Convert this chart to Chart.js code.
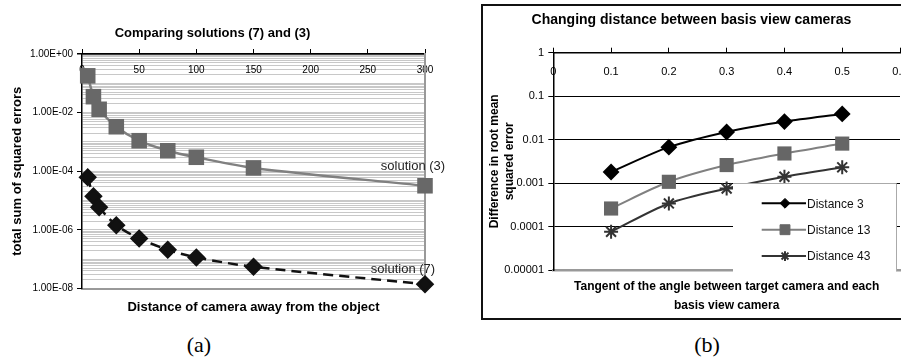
<!DOCTYPE html>
<html>
<head>
<meta charset="utf-8">
<script src="https://cdn.jsdelivr.net/npm/chart.js@4.4.1/dist/chart.umd.min.js"></script>
<style>
  html, body { margin: 0; padding: 0; background: #fff; overflow: hidden; }
  body { width: 901px; height: 357px; position: relative; }
  #wrapA { position: absolute; left: 0; top: 0; width: 450px; height: 325px; }
  #wrapB { position: absolute; left: 481px; top: 4px; width: 440px; height: 312px; border: 2px solid #111; overflow: hidden; }
  .cap { position: absolute; top: 332px; width: 60px; text-align: center; line-height: 26px;
         font-family: 'Liberation Serif', 'Times New Roman', serif; font-size: 22px; color: #000; }
</style>
</head>
<body>
<div id="wrapA"><canvas id="chartA" width="450" height="325"></canvas></div>
<div id="wrapB"><canvas id="chartB" width="430" height="312"></canvas></div>
<div class="cap" style="left:169px">(a)</div>
<div class="cap" style="left:677px">(b)</div>
<script>
// (a) Comparing solutions (7) and (3)
var distA = [5, 10, 15, 30, 50, 75, 100, 150, 300];
var sol3 = [0.18, 0.035, 0.013, 0.0033, 0.0011, 0.0005, 0.0003, 0.00013, 0.000032];
var sol7 = [6.2e-5, 1.4e-5, 5.9e-6, 1.45e-6, 5.1e-7, 2.1e-7, 1.15e-7, 5.5e-8, 1.4e-8];
var seriesA = ['solution (3)', 'solution (7)'];
var yTicksA = [1, 1e-2, 1e-4, 1e-6, 1e-8];
var yLabelsA = ['1.00E+00', '1.00E-02', '1.00E-04', '1.00E-06', '1.00E-08'];

// (b) Changing distance between basis view cameras
var tanB = [0.1, 0.2, 0.3, 0.4, 0.5];
var dist3 = [0.0018, 0.0067, 0.015, 0.026, 0.039];
var dist13 = [0.00026, 0.00107, 0.0026, 0.0048, 0.0081];
var dist43 = [7.6e-5, 0.00034, 0.00075, 0.0014, 0.0023];
var seriesB = ['Distance 3', 'Distance 13', 'Distance 43'];
var yTicksB = [1, 0.1, 0.01, 0.001, 0.0001, 0.00001];
var yLabelsB = ['1', '0.1', '0.01', '0.001', '0.0001', '0.00001'];

var FONT = '"Liberation Sans", Arial, sans-serif';
Chart.defaults.font.family = FONT;
Chart.defaults.color = '#000';

function pts(xs, ys) {
  return xs.map(function (x, i) { return {x: x, y: ys[i]}; });
}
// returns '' (not null) for unlabeled ticks so their grid lines stay visible
function findLabel(v, vals, labels) {
  for (var i = 0; i < vals.length; i++) {
    if (Math.abs(Math.log10(v) - Math.log10(vals[i])) < 1e-6) return labels[i];
  }
  return '';
}
function fixSize(w, h) {
  return function (s) {
    if (w != null) s.width = w;
    if (h != null) s.height = h;
  };
}

// labels next to the last point of each series in (a)
var endLabels = {
  id: 'endLabels',
  afterDatasetsDraw: function (chart) {
    var ctx = chart.ctx;
    var shift = [[-12, -19], [-22, -15]];
    ctx.save();
    ctx.font = '13px ' + FONT;
    ctx.fillStyle = '#222';
    ctx.textAlign = 'center';
    ctx.textBaseline = 'middle';
    chart.data.datasets.forEach(function (ds, i) {
      var p = chart.getDatasetMeta(i).data;
      var last = p[p.length - 1];
      ctx.fillText(ds.label, last.x + shift[i][0], last.y + shift[i][1]);
    });
    ctx.restore();
  }
};

// boxed legend inside the plot of (b)
var boxLegend = {
  id: 'boxLegend',
  afterDatasetsDraw: function (chart) {
    var ctx = chart.ctx, a = chart.chartArea;
    var left = a.right - 167, top = a.bottom - 87;
    ctx.save();
    ctx.fillStyle = '#fff';
    ctx.fillRect(left, top, 163, 89);
    ctx.strokeStyle = '#aaa';
    ctx.lineWidth = 1;
    ctx.beginPath();
    ctx.moveTo(left, top + 0.5);
    ctx.lineTo(left + 163.5, top + 0.5);
    ctx.lineTo(left + 163.5, top + 88);
    ctx.stroke();
    ctx.font = '12px ' + FONT;
    ctx.textBaseline = 'middle';
    ctx.textAlign = 'left';
    chart.data.datasets.forEach(function (ds, i) {
      var y = top + 20.3 + i * 26.4;
      ctx.setLineDash([]);
      ctx.strokeStyle = ds.borderColor;
      ctx.lineWidth = ds.borderWidth;
      ctx.beginPath();
      ctx.moveTo(left + 28.7, y);
      ctx.lineTo(left + 73, y);
      ctx.stroke();
      ctx.fillStyle = ds.pointBackgroundColor || ds.borderColor;
      ctx.strokeStyle = ds.pointBorderColor;
      ctx.lineWidth = ds.pointBorderWidth || 1;
      Chart.helpers.drawPoint(ctx, {pointStyle: ds.pointStyle, radius: ds.pointRadius * 0.7, rotation: 0,
        borderWidth: ds.pointBorderWidth || 1}, left + 52, y);
      ctx.fillStyle = '#111';
      ctx.fillText(ds.label, left + 74, y + 1);
    });
    ctx.restore();
  }
};

new Chart(document.getElementById('chartA'), {
  type: 'line',
  data: {
    datasets: [
      { label: seriesA[0], data: pts(distA, sol3), borderColor: '#808080', borderWidth: 2.5,
        pointStyle: 'rect', pointRadius: 11, pointBackgroundColor: '#686868', pointBorderColor: '#686868',
        pointBorderWidth: 0, tension: 0.3, clip: false },
      { label: seriesA[1], data: pts(distA, sol7), borderColor: '#111', borderWidth: 2.5, borderDash: [10, 6],
        pointStyle: 'rectRot', pointRadius: 7.5, pointBackgroundColor: '#111', pointBorderColor: '#111',
        tension: 0.3, clip: false }
    ]
  },
  options: {
    responsive: false,
    animation: false,
    layout: { padding: { left: 0, right: 25, top: 0, bottom: 0 } },
    plugins: {
      legend: { display: false },
      tooltip: { enabled: false },
      title: { display: true, text: 'Comparing solutions (7) and (3)', color: '#000',
               font: { size: 13, weight: 'bold' }, padding: { top: 25.2, bottom: 7.2 } }
    },
    scales: {
      x: {
        type: 'linear', position: 'top', min: 0, max: 300, offset: false,
        ticks: { stepSize: 50, font: { size: 10 }, color: '#000', padding: 10, mirror: true,
                 maxRotation: 0, autoSkip: false },
        grid: { drawOnChartArea: false, drawTicks: true, tickLength: 5, tickColor: '#000' },
        border: { color: '#000', width: 1.5 },
        afterFit: fixSize(null, 6)
      },
      x2: {
        type: 'linear', position: 'bottom', min: 0, max: 300,
        ticks: { display: false }, grid: { display: false },
        border: { color: '#999', width: 2 },
        title: { display: true, text: 'Distance of camera away from the object', color: '#000',
                 font: { size: 13, weight: 'bold' }, padding: { top: 0, bottom: 10.2 } },
        afterFit: fixSize(null, 36.5)
      },
      y: {
        type: 'logarithmic', position: 'left', min: 1e-8, max: 1,
        afterBuildTicks: function (s) {
          var t = [];
          for (var e = -8; e < 0; e++) {
            for (var m = 1; m < 10; m++) t.push({ value: m * Math.pow(10, e) });
          }
          t.push({ value: 1 });
          s.ticks = t;
        },
        ticks: { autoSkip: false, font: { size: 10 }, color: '#000', padding: 4,
                 callback: function (v) { return findLabel(v, yTicksA, yLabelsA); } },
        grid: { tickLength: 5,
                lineWidth: function (c) { return c.tick && c.tick.value > 0.99 ? 1.5 : 1; },
                color: function (c) { return c.tick && c.tick.value > 0.99 ? '#000' : '#c8c8c8'; },
                tickColor: function (c) { return c.tick && findLabel(c.tick.value, yTicksA, yLabelsA) ? '#000' : 'rgba(0,0,0,0)'; } },
        border: { color: '#000', width: 1.5 },
        title: { display: true, text: 'total sum of squared errors', color: '#000',
                 font: { size: 13, weight: 'bold' }, padding: { top: 9.2, bottom: 0 } },
        afterFit: fixSize(82, null)
      },
      y2: {
        type: 'linear', position: 'right', min: 0, max: 1,
        ticks: { display: false }, grid: { display: false },
        border: { color: '#999', width: 2 },
        afterFit: fixSize(0, null)
      }
    }
  },
  plugins: [endLabels]
});

new Chart(document.getElementById('chartB'), {
  type: 'line',
  data: {
    datasets: [
      { label: seriesB[0], data: pts(tanB, dist3), borderColor: '#000', borderWidth: 2,
        pointStyle: 'rectRot', pointRadius: 7, pointBackgroundColor: '#000', pointBorderColor: '#000',
        tension: 0.3, clip: false },
      { label: seriesB[1], data: pts(tanB, dist13), borderColor: '#808080', borderWidth: 2,
        pointStyle: 'rect', pointRadius: 10, pointBackgroundColor: '#666', pointBorderColor: '#666',
        pointBorderWidth: 0, tension: 0.3, clip: false },
      { label: seriesB[2], data: pts(tanB, dist43), borderColor: '#333', borderWidth: 2,
        pointStyle: 'star', pointRadius: 7, pointBackgroundColor: '#333', pointBorderColor: '#333',
        pointBorderWidth: 2, tension: 0.3, clip: false }
    ]
  },
  options: {
    responsive: false,
    animation: false,
    layout: { padding: { left: 0, right: 13, top: 0, bottom: 0 } },
    plugins: {
      legend: { display: false },
      tooltip: { enabled: false },
      title: { display: true, text: 'Changing distance between basis view cameras', color: '#000',
               font: { size: 14, weight: 'bold' }, padding: { top: 5.6, bottom: 18.3 } }
    },
    scales: {
      x: {
        type: 'linear', position: 'top', min: 0, max: 0.6, offset: false,
        ticks: { stepSize: 0.1, font: { size: 11, lineHeight: 3 }, color: '#000', padding: 2.5, mirror: true,
                 maxRotation: 0, autoSkip: false },
        grid: { drawOnChartArea: false, drawTicks: true, tickLength: 5, tickColor: '#000' },
        border: { color: '#000', width: 1.5 },
        afterFit: fixSize(null, 6)
      },
      x2: {
        type: 'linear', position: 'bottom', min: 0, max: 0.6,
        ticks: { display: false }, grid: { display: false },
        border: { color: '#999', width: 2.5 },
        title: { display: true, text: ['Tangent of the angle between target camera and each', 'basis view camera'],
                 color: '#000', font: { size: 12, weight: 'bold', lineHeight: 1.6 }, padding: { top: 0, bottom: 2.5 } },
        afterFit: fixSize(null, 48)
      },
      y: {
        type: 'logarithmic', position: 'left', min: 1e-5, max: 1,
        afterBuildTicks: function (s) {
          s.ticks = yTicksB.slice().reverse().map(function (v) { return { value: v }; });
        },
        ticks: { autoSkip: false, font: { size: 11 }, color: '#000', padding: 4.3,
                 callback: function (v) { return findLabel(v, yTicksB, yLabelsB); } },
        grid: { lineWidth: 1, tickLength: 5, tickColor: '#000',
                color: function (c) { return c.tick && c.tick.value > 2e-5 && c.tick.value < 0.99 ? '#000' : 'rgba(0,0,0,0)'; } },
        border: { color: '#000', width: 1.5 },
        title: { display: true, text: ['Difference in root mean', 'squared error'], color: '#000',
                 font: { size: 12, weight: 'bold' }, padding: { top: 4.8, bottom: 0 } },
        afterFit: fixSize(70.3, null)
      }
    }
  },
  plugins: [boxLegend]
});
</script>
</body>
</html>
